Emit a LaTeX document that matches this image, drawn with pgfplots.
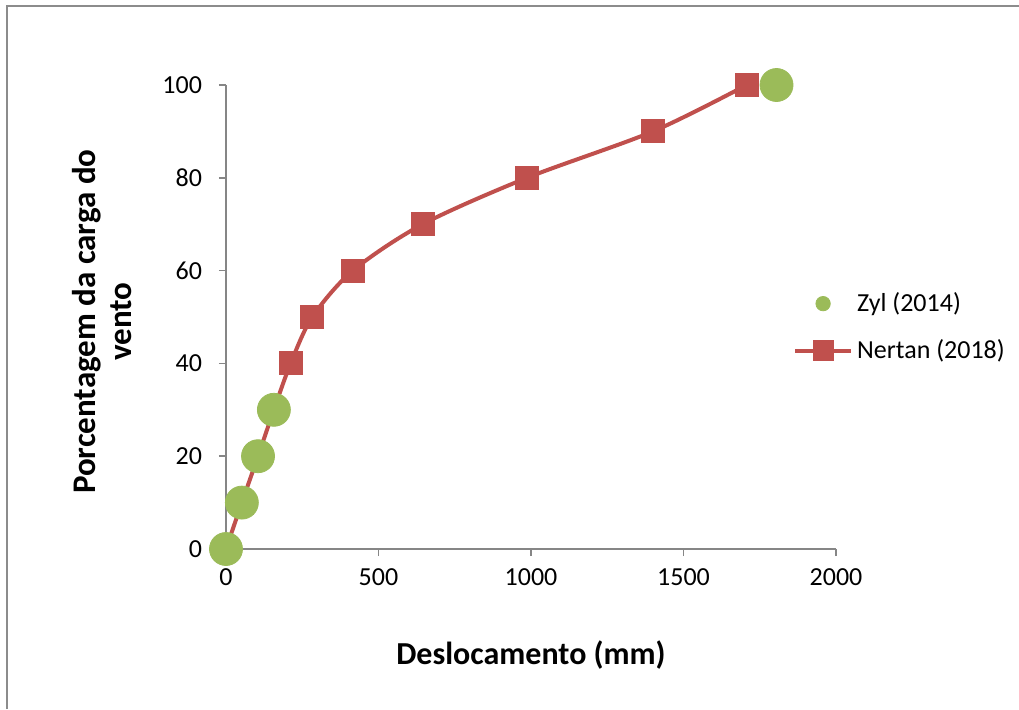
\documentclass[border=0pt]{standalone}
\usepackage{pgfplots}
\pgfplotsset{compat=1.18}
\usepackage{fontspec}
\setmainfont{Carlito}
\definecolor{zyl}{HTML}{9BBB59}
\definecolor{nert}{HTML}{C0504D}
\definecolor{axgray}{HTML}{868686}
\definecolor{framegray}{HTML}{8C8C8C}
\begin{document}
\begin{tikzpicture}[x=0.5pt,y=0.5pt]
\path[use as bounding box] (0,0) rectangle (1019,709);
\draw[framegray, line width=1pt] (7,0) -- (7,703) -- (1019,703);
\begin{axis}[
  at={(113pt,80pt)}, anchor=south west,
  scale only axis, width=305pt, height=232pt,
  xmin=0, xmax=2000, ymin=0, ymax=100,
  xtick={0,500,1000,1500,2000}, ytick={0,20,40,60,80,100},
  axis x line=bottom, axis y line=left,
  axis line style={axgray, line width=0.75pt, -},
  tick style={axgray, line width=0.75pt},
  major tick length=3.5pt,
  tick align=outside,
  xtick pos=bottom, ytick pos=left,
  clip=false,
  font=\fontsize{13}{15}\selectfont,
  /pgf/number format/assume math mode=true,
  /pgf/number format/1000 sep={},
  xticklabel style={yshift=-3pt},
  yticklabel style={xshift=-5pt},
  xlabel={\textbf{Deslocamento (mm)}},
  ylabel={\textbf{Porcentagem da carga do}\\\textbf{vento}},
  xlabel style={font=\fontsize{16}{20}\selectfont, at={(axis description cs:0.5,-0.228)}, anchor=center},
  ylabel style={font=\fontsize{16.5}{18}\selectfont, at={(axis description cs:-0.203,0.49)}, anchor=center, rotate=0, align=center},
  legend style={at={(axis description cs:0.929,0.562)}, anchor=north west, draw=none, fill=none,
    font=\fontsize{13}{15}\selectfont, row sep=8.5pt, inner sep=0pt,
    /tikz/every even column/.append style={column sep=1.5pt}},
  legend cell align=left,
  reverse legend,
]
\addplot[nert, line width=2pt, smooth, tension=0.5, mark=square*, mark size=5pt,
  mark options={solid, fill=nert, draw=nert},
  legend image code/.code={
    \draw[nert, line width=2pt] (0pt,0pt) -- (28pt,0pt);
    \fill[nert] (9.75pt,-4.25pt) rectangle (18.25pt,4.25pt);}]
  coordinates {(0,0) (52,10) (105,20) (157,30) (212,40) (283,50) (416,60) (645,70) (987,80) (1400,90) (1707,100)};
\addplot[only marks, mark=*, mark size=8.25pt, mark options={fill=zyl, draw=zyl},
  legend image code/.code={\fill[zyl] (14pt,0pt) circle (3.6pt);}]
  coordinates {(0,0) (52,10) (105,20) (157,30) (1805,100)};
\legend{Nertan (2018), Zyl (2014)}
\end{axis}
\end{tikzpicture}
\end{document}
